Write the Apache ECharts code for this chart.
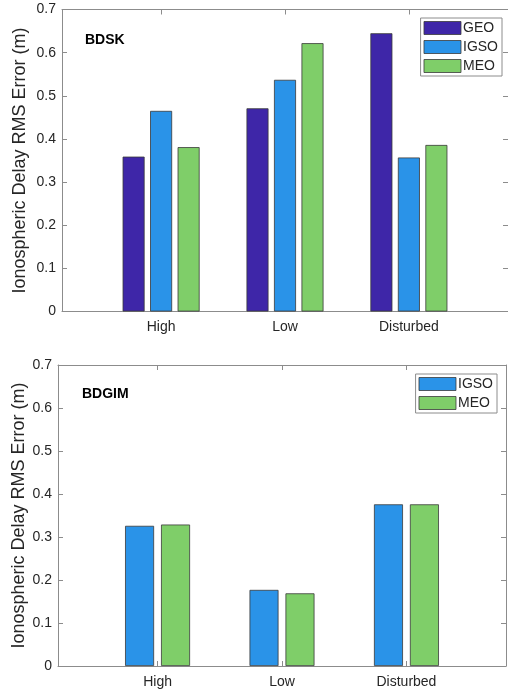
<!DOCTYPE html>
<html>
<head>
<meta charset="utf-8">
<script src="https://cdn.jsdelivr.net/npm/echarts@6/dist/echarts.min.js"></script>
<style>
  html, body { margin: 0; padding: 0; background: #fff; }
  #chart { width: 508px; height: 691px; }
</style>
</head>
<body>
<div id="chart"></div>
<script>
const categories = ['High', 'Low', 'Disturbed']

// BDSK panel
const bdskGeo = [0.359, 0.471, 0.645]
const bdskIgso = [0.465, 0.537, 0.357]
const bdskMeo = [0.381, 0.622, 0.386]

// BDGIM panel
const bdgimIgso = [0.326, 0.177, 0.376]
const bdgimMeo = [0.329, 0.169, 0.376]

const yTicks = [0, 0.1, 0.2, 0.3, 0.4, 0.5, 0.6, 0.7]

const colors = { GEO: '#3e26a8', IGSO: '#2a93e8', MEO: '#7fce69' }
const frame = '#8c8c8c'
const textColor = '#262626'
const font = 'Liberation Sans, Arial, sans-serif'

const toPoints = (vals) => vals.map((v, i) => [i + 1, v])

function xAxes(gridIndex) {
  const base = {
    type: 'value',
    gridIndex,
    min: 0.2,
    max: 3.8,
    splitLine: { show: false },
    axisLine: { show: true, onZero: false, lineStyle: { color: frame, width: 1 } },
    axisTick: { show: true, inside: true, length: 5, customValues: [1, 2, 3], lineStyle: { color: frame } },
  }
  return [
    {
      ...base,
      position: 'bottom',
      axisLabel: {
        customValues: [1, 2, 3],
        formatter: (v) => categories[Math.round(v) - 1],
        color: textColor,
        fontSize: 14,
        fontFamily: font,
        margin: 9,
      },
    },
    { ...base, position: 'top', axisLabel: { show: false } },
  ]
}

function yAxes(gridIndex, nameGap) {
  const base = {
    type: 'value',
    gridIndex,
    min: 0,
    max: yTicks[yTicks.length - 1],
    interval: 0.1,
    splitLine: { show: false },
    axisLine: { show: true, onZero: false, lineStyle: { color: frame, width: 1 } },
    axisTick: { show: true, inside: true, length: 5, lineStyle: { color: frame } },
  }
  return [
    {
      ...base,
      position: 'left',
      name: 'Ionospheric Delay RMS Error (m)',
      nameLocation: 'middle',
      nameGap,
      nameMoveOverlap: false,
      nameTextStyle: { color: textColor, fontSize: 18, fontFamily: font },
      axisLabel: {
        color: textColor,
        fontSize: 14,
        fontFamily: font,
        margin: 6,
        formatter: (v) => (v === 0 ? '0' : v.toFixed(1)),
      },
    },
    { ...base, position: 'right', axisLabel: { show: false } },
  ]
}

function bar(name, vals, xAxisIndex, yAxisIndex, width, gap) {
  return {
    name,
    type: 'bar',
    xAxisIndex,
    yAxisIndex,
    data: toPoints(vals),
    barWidth: width,
    barGap: gap,
    itemStyle: { color: colors[name], borderColor: '#3a3a3a', borderWidth: 0.8 },
    emphasis: { disabled: true },
  }
}

const legendBase = {
  orient: 'vertical',
  icon: 'rect',
  itemWidth: 37,
  itemHeight: 13,
  itemGap: 5,
  padding: [3, 4, 3, 3],
  borderColor: frame,
  borderWidth: 1,
  backgroundColor: '#fff',
  itemStyle: { borderColor: '#3a3a3a', borderWidth: 0.8 },
  textStyle: { color: textColor, fontSize: 14, lineHeight: 13, fontFamily: font, padding: [0, 0, 0, -3] },
  selectedMode: false,
}

const chart = echarts.init(document.getElementById('chart'), null, { renderer: 'canvas' })

chart.setOption({
  animation: false,
  title: [
    { text: 'BDSK', left: 85, top: 33, padding: 0, textStyle: { fontSize: 14, fontWeight: 'bold', color: '#000', fontFamily: font } },
    { text: 'BDGIM', left: 82, top: 387, padding: 0, textStyle: { fontSize: 14, fontWeight: 'bold', color: '#000', fontFamily: font } },
  ],
  grid: [
    { left: 62, top: 9.5, right: 0, bottom: 379.5, show: false, outerBoundsMode: 'none' },
    { left: 58, top: 365, right: 2, bottom: 25, show: false, outerBoundsMode: 'none' },
  ],
  legend: [
    { ...legendBase, data: ['GEO', 'IGSO', 'MEO'], right: 6, top: 18 },
    { ...legendBase, data: ['IGSO', 'MEO'], right: 11, top: 374 },
  ],
  xAxis: [...xAxes(0), ...xAxes(1)],
  yAxis: [...yAxes(0, 33), ...yAxes(1, 30)],
  series: [
    bar('GEO', bdskGeo, 0, 0, 22, '25%'),
    bar('IGSO', bdskIgso, 0, 0, 22, '25%'),
    bar('MEO', bdskMeo, 0, 0, 22, '25%'),
    bar('IGSO', bdgimIgso, 2, 2, 29, '24%'),
    bar('MEO', bdgimMeo, 2, 2, 29, '24%'),
  ],
})
</script>
</body>
</html>
